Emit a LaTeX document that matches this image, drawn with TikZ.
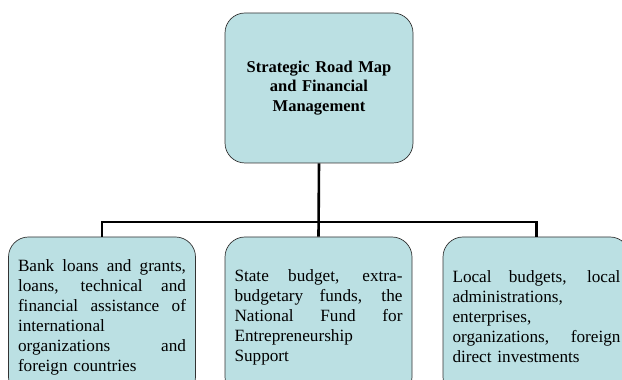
\documentclass[tikz,border=0pt]{standalone}
\usepackage{fontspec}
\setmainfont{Liberation Serif}
\usetikzlibrary{positioning}
\definecolor{boxfill}{RGB}{187,224,227}
\newcommand{\jline}[1]{\leavevmode\hbox to 168pt{\spaceskip=0.25em plus 3em\relax #1}}
\tikzset{
  box/.style={draw=black!80, line width=0.7pt, fill=boxfill, rounded corners=20pt,
    minimum width=187pt, minimum height=160pt, inner sep=0pt},
  srcbox/.style={box, text width=168pt, align=left,
    font=\fontsize{17.2}{20}\selectfont},
  topbox/.style={box, minimum width=188pt, minimum height=150pt,
    text width=170pt, align=center, font=\fontsize{16.5}{19.5}\selectfont\bfseries},
  link/.style={line width=2.6pt, black}
}
\begin{document}
\begin{tikzpicture}[x=1pt,y=1pt]
      \useasboundingbox (0,0) rectangle (622,380);
      \clip (0,0) rectangle (622,380);
      \draw
        (319,292) node[topbox] (map){Strategic Road Map\\and Financial\\Management}
        (102,63) node[srcbox] (intl){\jline{Bank loans and grants,}\\
          \jline{loans, technical and}\\
          \jline{financial assistance of}\\
          international\\
          \jline{organizations and}\\
          foreign countries}
        (318.5,63) node[srcbox] (state){\jline{State budget, extra-}\\
          \jline{budgetary funds, the}\\
          \jline{National Fund for}\\
          Entrepreneurship\\
          Support}
        (536.5,63) node[srcbox] (local){\jline{Local budgets, local}\\
          administrations,\\
          enterprises,\\
          \jline{organizations, foreign}\\
          direct investments};
      \coordinate (bar) at (319,158);
      \begin{scope}[link]
        \draw (map.south) to (state.north);
        \draw (intl.north) |- (bar) -| (local.north);
      \end{scope}
    \end{tikzpicture}
\end{document}
